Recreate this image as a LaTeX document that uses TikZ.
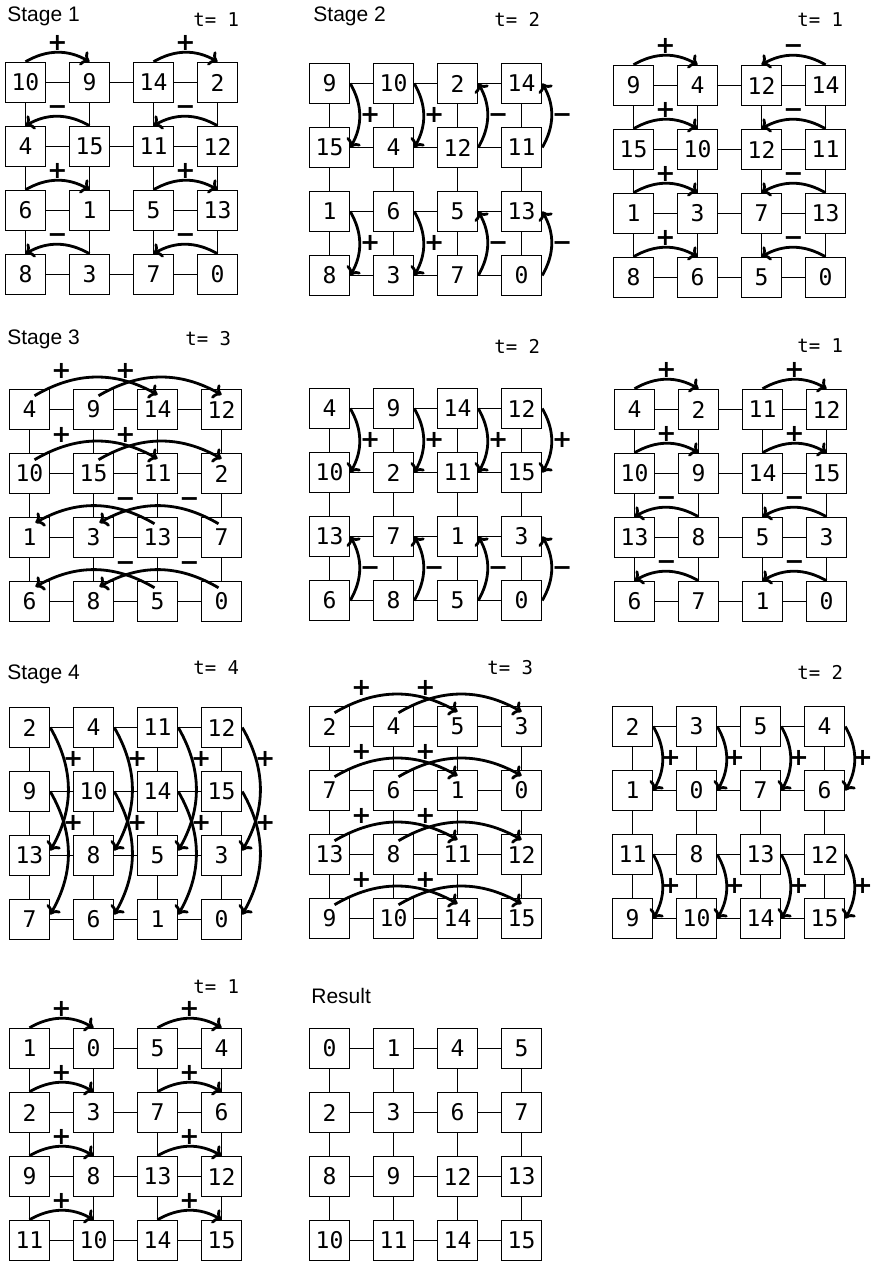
\documentclass[tikz,border=0pt]{standalone}
\usepackage{fontspec}
\setmainfont{Liberation Sans}
\newfontfamily\numfont{DejaVu Sans Mono}
\newfontfamily\signfont{DejaVu Sans}[BoldFont={DejaVu Sans Bold}]
\usetikzlibrary{arrows.meta,calc}

\tikzset{
  cell/.style={draw, line width=0.75pt, minimum size=20pt, inner sep=0pt, fill=white,
    font=\numfont\fontsize{11.5}{11.5}\selectfont},
  link/.style={line width=0.75pt},
  mv/.style={line width=1.4pt, -{To[length=4pt,width=8pt]}},
  sgn/.style={inner sep=0pt, text height=0.72em, text depth=0pt,
    font=\signfont\bfseries\fontsize{12}{12}\selectfont},
  stagelbl/.style={anchor=base west, inner sep=0pt, font=\fontsize{10.5}{10.5}\selectfont},
  tlbl/.style={anchor=base west, inner sep=0pt, font=\numfont\fontsize{9.5}{9.5}\selectfont}
}
\def\voff{20}

% grid: #1 name, #2 x, #3 y (top-left of first box, px), #4 16 numbers row-major
\newcommand{\mkgrid}[4]{%
  \foreach \v [count=\k from 0] in {#4} {
    \pgfmathtruncatemacro\mrow{div(\k,4)+1}
    \pgfmathtruncatemacro\mcol{mod(\k,4)+1}
    \node[cell] (#1-\mrow-\mcol) at ({#2+(\mcol-1)*64+20.5},{#3+(\mrow-1)*64+20.5}) {\v};
  }
  \foreach \r in {1,...,4} {
    \foreach \c in {1,2,3} {
      \pgfmathtruncatemacro\cn{\c+1}
      \draw[link] (#1-\r-\c) -- (#1-\r-\cn);
      \draw[link] (#1-\c-\r) -- (#1-\cn-\r);
    }
  }
}
% horizontal, distance 1, rightward / leftward: #1 grid, #2 row, #3 from col, #4 to col, #5 sign
\newcommand{\arcHR}[5]{%
  \draw[mv] (#1-#2-#3.north) to[bend left=30] (#1-#2-#4.north);
  \node[sgn] (#1-s#2#3#4) at ($(#1-#2-#3.north)!0.5!(#1-#2-#4.north)+(0,-18.5)$) {#5};}
\newcommand{\arcHL}[5]{%
  \draw[mv] (#1-#2-#3.north) to[bend right=30] (#1-#2-#4.north);
  \node[sgn] (#1-s#2#3#4) at ($(#1-#2-#3.north)!0.5!(#1-#2-#4.north)+(0,-18.5)$) {#5};}
% vertical, distance 1, down / up: #1 grid, #2 col, #3 from row, #4 to row, #5 sign
\newcommand{\arcVD}[5]{%
  \draw[mv] (#1-#3-#2.east) to[bend left=30] (#1-#4-#2.east);
  \node[sgn] (#1-v#2#3#4) at ($(#1-#3-#2.east)!0.5!(#1-#4-#2.east)+(\voff,0)$) {#5};}
\newcommand{\arcVU}[5]{%
  \draw[mv] (#1-#3-#2.east) to[bend right=30] (#1-#4-#2.east);
  \node[sgn] (#1-v#2#3#4) at ($(#1-#3-#2.east)!0.5!(#1-#4-#2.east)+(\voff,0)$) {#5};}
% horizontal, distance 2
\newcommand{\arcHRR}[5]{%
  \draw[mv] ($(#1-#2-#3.north)+(5,7)$) to[bend left=30] ($(#1-#2-#4.north)+(0,6)$);
  \node[sgn] (#1-s#2#3#4) at ($(#1-#2-#3.north)!0.25!(#1-#2-#4.north)+(0,-17)$) {#5};}
\newcommand{\arcHLL}[5]{%
  \draw[mv] ($(#1-#2-#3.north)+(-3,7)$) to[bend right=30] ($(#1-#2-#4.north)+(6,6)$);
  \node[sgn] (#1-s#2#3#4) at ($(#1-#2-#3.north)!0.25!(#1-#2-#4.north)+(0,-17)$) {#5};}
% vertical, distance 2, down
\newcommand{\arcVDD}[5]{%
  \draw[mv] (#1-#3-#2.east) to[bend left=30] ($(#1-#4-#2.east)+(0,-5)$);
  \node[sgn] (#1-v#2#3#4) at ($(#1-#3-#2.east)!0.25!(#1-#4-#2.east)+(23,0)$) {#5};}

\begin{document}
\begin{tikzpicture}[x=0.5pt,y=-0.5pt]
\useasboundingbox (0,0) rectangle (872,1261);

% ---------- Stage 1 ----------
\node[stagelbl] (lS1) at (7,22) {Stage 1};
\node[tlbl] (lt1) at (193,27) {t= 1};
\mkgrid{A}{5}{62}{10,9,14,2,4,15,11,12,6,1,5,13,8,3,7,0}
\foreach \r in {1,3} {\arcHR{A}{\r}{1}{2}{+}\arcHR{A}{\r}{3}{4}{+}}
\foreach \r in {2,4} {\arcHL{A}{\r}{2}{1}{−}\arcHL{A}{\r}{4}{3}{−}}

% ---------- Stage 2 ----------
\node[stagelbl] (lS2) at (313,22) {Stage 2};
\node[tlbl] (lt2) at (494,27) {t= 2};
\mkgrid{B}{309}{63}{9,10,2,14,15,4,12,11,1,6,5,13,8,3,7,0}
\foreach \c in {1,2} {\arcVD{B}{\c}{1}{2}{+}\arcVD{B}{\c}{3}{4}{+}}
\foreach \c in {3,4} {\arcVU{B}{\c}{2}{1}{−}\arcVU{B}{\c}{4}{3}{−}}

\node[tlbl] (lt3) at (797,27) {t= 1};
\mkgrid{C}{613}{65}{9,4,12,14,15,10,12,11,1,3,7,13,8,6,5,0}
\foreach \r in {1,...,4} {\arcHR{C}{\r}{1}{2}{+}\arcHL{C}{\r}{4}{3}{−}}

% ---------- Stage 3 ----------
\node[stagelbl] (lS3) at (7,345) {Stage 3};
\node[tlbl] (lt4) at (185,346) {t= 3};
\mkgrid{D}{9}{389}{4,9,14,12,10,15,11,2,1,3,13,7,6,8,5,0}
\foreach \r in {1,2} {\arcHRR{D}{\r}{1}{3}{+}\arcHRR{D}{\r}{2}{4}{+}}
\foreach \r in {3,4} {\arcHLL{D}{\r}{3}{1}{−}\arcHLL{D}{\r}{4}{2}{−}}

\node[tlbl] (lt5) at (494,354) {t= 2};
\mkgrid{E}{309}{388}{4,9,14,12,10,2,11,15,13,7,1,3,6,8,5,0}
\foreach \c in {1,...,4} {\arcVD{E}{\c}{1}{2}{+}\arcVU{E}{\c}{4}{3}{−}}

\node[tlbl] (lt6) at (797,353) {t= 1};
\mkgrid{F}{614}{389}{4,2,11,12,10,9,14,15,13,8,5,3,6,7,1,0}
\foreach \r in {1,2} {\arcHR{F}{\r}{1}{2}{+}\arcHR{F}{\r}{3}{4}{+}}
\foreach \r in {3,4} {\arcHL{F}{\r}{2}{1}{−}\arcHL{F}{\r}{4}{3}{−}}

% ---------- Stage 4 ----------
\node[stagelbl] (lS4) at (7,679) {Stage 4};
\node[tlbl] (lt7) at (193,674) {t= 4};
\mkgrid{G}{9}{707}{2,4,11,12,9,10,14,15,13,8,5,3,7,6,1,0}
\foreach \c in {1,...,4} {\arcVDD{G}{\c}{1}{3}{+}\arcVDD{G}{\c}{2}{4}{+}}

\node[tlbl] (lt8) at (487,674) {t= 3};
\mkgrid{H}{309}{706}{2,4,5,3,7,6,1,0,13,8,11,12,9,10,14,15}
\foreach \r in {1,...,4} {\arcHRR{H}{\r}{1}{3}{+}\arcHRR{H}{\r}{2}{4}{+}}

\def\voff{17.5}
\node[tlbl] (lt9) at (797,679) {t= 2};
\mkgrid{I}{612}{706}{2,3,5,4,1,0,7,6,11,8,13,12,9,10,14,15}
\foreach \c in {1,...,4} {\arcVD{I}{\c}{1}{2}{+}\arcVD{I}{\c}{3}{4}{+}}

\node[tlbl] (lt10) at (193,993) {t= 1};
\mkgrid{J}{9}{1028}{1,0,5,4,2,3,7,6,9,8,13,12,11,10,14,15}
\foreach \r in {1,...,4} {\arcHR{J}{\r}{1}{2}{+}\arcHR{J}{\r}{3}{4}{+}}

% ---------- Result ----------
\node[stagelbl] (lR) at (311,1003) {Result};
\mkgrid{K}{309}{1028}{0,1,4,5,2,3,6,7,8,9,12,13,10,11,14,15}
\end{tikzpicture}
\end{document}
